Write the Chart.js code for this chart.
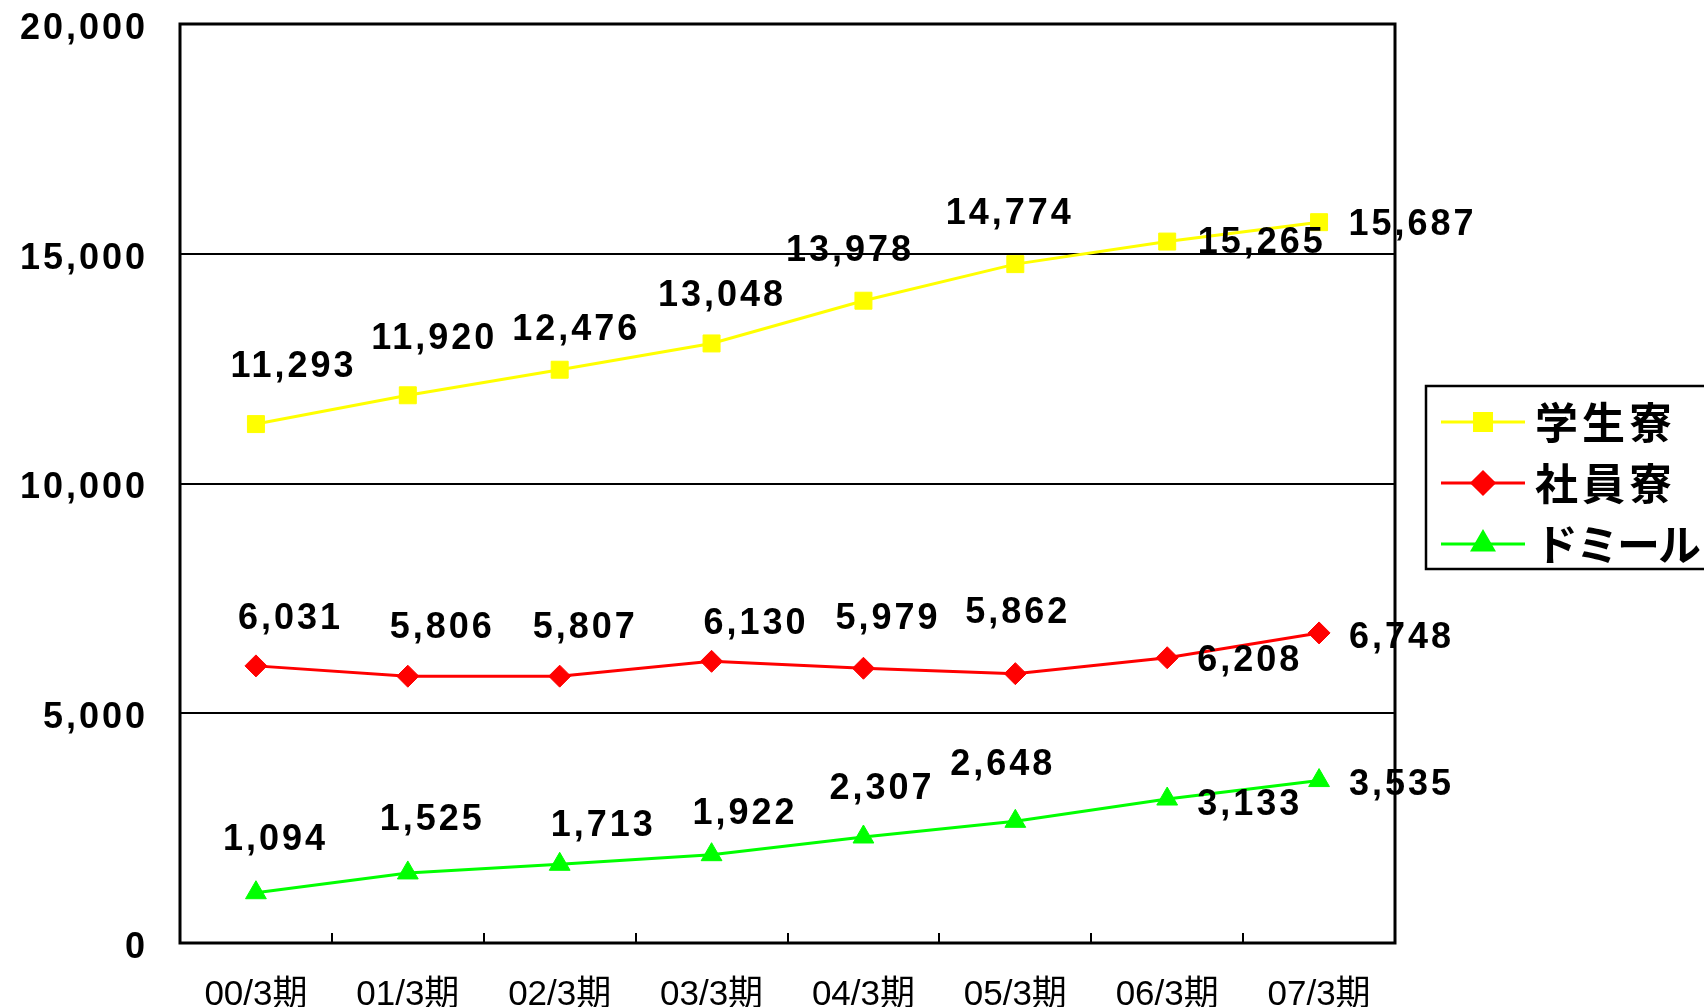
<!DOCTYPE html>
<html lang="ja">
<head>
<meta charset="utf-8">
<title>寮 入居者数の推移</title>
<script src="https://cdn.jsdelivr.net/npm/chart.js@4.4.1/dist/chart.umd.min.js"></script>
<style>
  html, body { margin: 0; padding: 0; background: #fff; }
  #wrap { position: relative; width: 1704px; height: 1007px; }
</style>
</head>
<body>
<div id="wrap"><canvas id="dormChart"></canvas></div>
<script>
// 決算期ごとの入居者数
const periods = ['00/3期', '01/3期', '02/3期', '03/3期', '04/3期', '05/3期', '06/3期', '07/3期'];
const studentDorm = [11293, 11920, 12476, 13048, 13978, 14774, 15265, 15687];
const companyDorm = [6031, 5806, 5807, 6130, 5979, 5862, 6208, 6748];
const dormy = [1094, 1525, 1713, 1922, 2307, 2648, 3133, 3535];
const yTicks = [0, 5000, 10000, 15000, 20000];

// 数値ラベルの位置 (点からのずらし量 px)
const labelShift = [
    [[36, -57], [25, -56], [15, -40], [9, -47], [-15, -50], [-7, -50], [93, 2], [92, 3]],
    [[33, -47], [33, -48], [24, -48], [43, -37], [23, -49], [1, -61], [81, 3], [81, 5]],
    [[18, -53], [23, -53], [42, -38], [32, -41], [17, -48], [-14, -56], [81, 6], [81, 5]]
];

// 凡例の字間
const legendSpacing = ['4px', '4px', '-2px'];

const numFont = 'bold 36px "Liberation Sans", Arial, sans-serif';

const dormPlugin = {
    id: 'dormPlugin',
    beforeDraw(chart) {
        // y軸目盛りと数値ラベルは字間を空ける
        chart.ctx.letterSpacing = '3px';
    },
    afterDatasetsDraw(chart) {
        const ctx = chart.ctx;
        ctx.save();
        ctx.font = numFont;
        ctx.fillStyle = '#000';
        ctx.textAlign = 'center';
        ctx.textBaseline = 'middle';
        chart.data.datasets.forEach((ds, di) => {
            chart.getDatasetMeta(di).data.forEach((pt, i) => {
                const [dx, dy] = labelShift[di][i];
                ctx.fillText(ds.data[i].toLocaleString('en-US'), pt.x + dx + 1.5, pt.y + dy);
            });
        });
        ctx.restore();
        chart.ctx.letterSpacing = '0px';
    },
    afterDraw(chart) {
        const ctx = chart.ctx;
        const area = chart.chartArea;
        const x = chart.scales.x;

        ctx.save();
        ctx.strokeStyle = '#000';
        // 内向きの目盛り
        ctx.lineWidth = 2;
        ctx.beginPath();
        for (let i = 1; i < periods.length; i++) {
            const px = Math.round((x.getPixelForValue(i - 1) + x.getPixelForValue(i)) / 2);
            ctx.moveTo(px, area.bottom);
            ctx.lineTo(px, area.bottom - 10);
        }
        ctx.stroke();
        // 枠
        ctx.lineWidth = 3;
        ctx.strokeRect(area.left, area.top, area.right - area.left, area.bottom - area.top);

        // 凡例
        const boxLeft = 1426, boxTop = 386, boxBottom = 569;
        ctx.lineWidth = 2.5;
        ctx.strokeRect(boxLeft, boxTop, 320, boxBottom - boxTop);
        const rows = [422, 483, 544];
        chart.data.datasets.forEach((ds, i) => {
            const y = rows[i];
            ctx.strokeStyle = ds.borderColor;
            ctx.lineWidth = 3;
            ctx.beginPath();
            ctx.moveTo(1441, y);
            ctx.lineTo(1525, y);
            ctx.stroke();
            ctx.fillStyle = ds.pointBackgroundColor;
            ctx.strokeStyle = ds.pointBorderColor;
            Chart.helpers.drawPoint(ctx, {
                pointStyle: ds.pointStyle,
                radius: ds.pointRadius,
                borderWidth: 1,
                rotation: 0
            }, 1483, y);
            ctx.fillStyle = '#000';
            ctx.letterSpacing = legendSpacing[i];
            ctx.font = 'bold 43px "Noto Sans CJK JP", sans-serif';
            ctx.textAlign = 'left';
            ctx.textBaseline = 'middle';
            ctx.fillText(ds.label, 1535, y + 1);
            ctx.letterSpacing = '0px';
        });
        ctx.restore();
    }
};

const ctx = document.getElementById('dormChart').getContext('2d');
new Chart(ctx, {
    type: 'line',
    data: {
        labels: periods,
        datasets: [
            {
                label: '学生寮',
                data: studentDorm,
                borderColor: '#ffff00',
                backgroundColor: '#ffff00',
                pointBackgroundColor: '#ffff00',
                pointBorderColor: '#ffff00',
                pointStyle: 'rect',
                pointRadius: 12
            },
            {
                label: '社員寮',
                data: companyDorm,
                borderColor: '#ff0000',
                backgroundColor: '#ff0000',
                pointBackgroundColor: '#ff0000',
                pointBorderColor: '#ff0000',
                pointStyle: 'rectRot',
                pointRadius: 11
            },
            {
                label: 'ドミール',
                data: dormy,
                borderColor: '#00ff00',
                backgroundColor: '#00ff00',
                pointBackgroundColor: '#00ff00',
                pointBorderColor: '#00ff00',
                pointStyle: 'triangle',
                pointRadius: 12
            }
        ]
    },
    options: {
        responsive: true,
        maintainAspectRatio: false,
        animation: false,
        elements: {
            line: { borderWidth: 3, tension: 0 },
            point: { borderWidth: 1, hoverRadius: 12 }
        },
        layout: {
            padding: { left: 0, top: 24, right: 309, bottom: 0 }
        },
        plugins: {
            legend: { display: false },
            tooltip: { enabled: false }
        },
        scales: {
            x: {
                offset: true,
                grid: { display: false },
                border: { display: false },
                ticks: {
                    z: 1,
                    color: '#000',
                    padding: 23,
                    maxRotation: 0,
                    font: { family: '"Liberation Sans", "Noto Sans CJK JP", sans-serif', size: 35 }
                },
                afterFit(scale) {
                    scale.height = 64;
                    scale.paddingLeft = 0;
                    scale.paddingRight = 0;
                }
            },
            y: {
                min: 0,
                max: 20000,
                afterBuildTicks(scale) {
                    scale.ticks = yTicks.map(v => ({ value: v }));
                },
                grid: { color: '#000', lineWidth: 2, drawTicks: false },
                border: { display: false },
                ticks: {
                    color: '#000',
                    padding: 32,
                    labelOffset: 5,
                    font: { family: '"Liberation Sans", Arial, sans-serif', size: 36, weight: 'bold' },
                    callback: v => v.toLocaleString('en-US')
                },
                afterFit(scale) {
                    scale.width = 180;
                    scale.paddingTop = 0;
                    scale.paddingBottom = 0;
                }
            }
        }
    },
    plugins: [dormPlugin]
});
</script>
</body>
</html>
